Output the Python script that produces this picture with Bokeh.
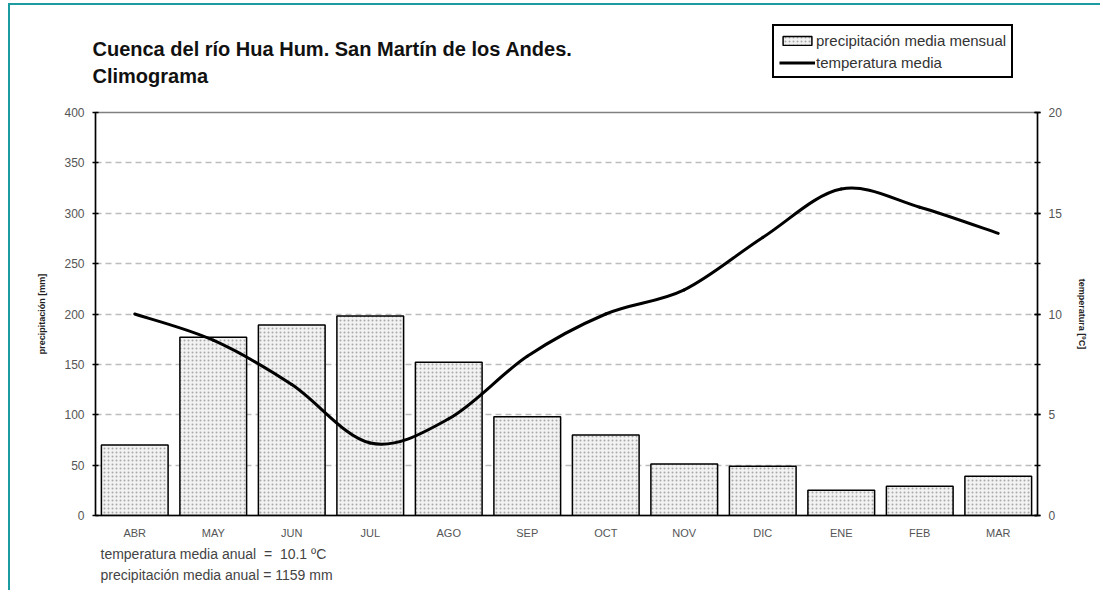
from bokeh.plotting import figure
from bokeh.layouts import column
from bokeh.models import (FactorRange, Range1d, LinearAxis, Legend, LegendItem,
                          SingleIntervalTicker)
from bokeh.core.properties import value
from bokeh.embed import file_html
from bokeh.resources import INLINE

months = ["ABR", "MAY", "JUN", "JUL", "AGO", "SEP", "OCT", "NOV", "DIC", "ENE", "FEB", "MAR"]
precip = [70, 177, 189, 198, 152, 98, 80, 51, 49, 25, 29, 39]
temp = [10.0, 8.7, 6.5, 3.6, 4.8, 7.9, 10.0, 11.2, 13.8, 16.2, 15.3, 14.0]
title_lines = ["Cuenca del río Hua Hum. San Martín de los Andes.", "Climograma"]
note_lines = ["temperatura media anual\u00a0 =\u00a0 10.1 ºC", "precipitación media anual = 1159 mm"]
legend_labels = ["precipitación media mensual", "temperatura media"]

FONT = "Liberation Sans"
TEAL = "#1c9ba0"
W = 1090

BAR_STYLE = dict(fill_color="#f2f2f2", hatch_pattern=".", hatch_color="#a8a8a8",
                 hatch_scale=4, hatch_weight=1, line_color="black", line_width=1.5)


def blank_figure(height):
    f = figure(width=W, height=height, x_range=Range1d(0, W), y_range=Range1d(height, 0),
               output_backend="svg", toolbar_location=None, min_border=0,
               min_border_left=0, min_border_right=0, min_border_top=0, min_border_bottom=0,
               x_axis_type=None, y_axis_type=None, frame_align=False)
    f.grid.visible = False
    f.outline_line_color = None
    return f


# ---------- top: title + legend ----------
top = blank_figure(85)
top.text(x=[82, 82], y=[43, 70], text=title_lines, text_font=value(FONT),
         text_font_size="20px", text_font_style="bold", text_color="#111111",
         text_baseline="middle", text_align="left")
# invisible legend proxies (legend glyphs are drawn from their styles)
leg_bar = top.vbar(x=[0], top=[0], width=1, visible=False, **BAR_STYLE)
leg_line = top.line(x=[0, 0], y=[0, 0], line_color="black", line_width=3, visible=False)
legend = Legend(items=[LegendItem(label=legend_labels[0], renderers=[leg_bar]),
                       LegendItem(label=legend_labels[1], renderers=[leg_line])],
                location=(762, 12), border_line_color="black", border_line_width=2,
                border_line_alpha=1,
                background_fill_color="white", background_fill_alpha=1,
                padding=5, spacing=4, margin=0,
                glyph_width=36, glyph_height=11, label_height=18, label_standoff=1,
                label_text_font=FONT, label_text_font_size="15px",
                label_text_color="#333333", label_text_baseline="middle",
                click_policy="none")
top.add_layout(legend, "center")

# ---------- main chart ----------
p = figure(width=W, height=455, x_range=FactorRange(*months, range_padding=0),
           y_range=Range1d(0, 400), output_backend="svg", toolbar_location=None,
           min_border_left=85, min_border_right=63, min_border_top=22, min_border_bottom=30,
           frame_align=False)
p.extra_y_ranges = {"temp": Range1d(0, 20)}

p.outline_line_color = "#808080"
p.outline_line_width = 1.5
p.xgrid.visible = False
p.ygrid.grid_line_color = "#bdbdbd"
p.ygrid.grid_line_dash = "6 4"
p.ygrid.grid_line_width = 1.5
p.ygrid.ticker = SingleIntervalTicker(interval=50)

p.vbar(x=months, top=precip, width=0.85, **BAR_STYLE)

# smoothed temperature curve (Catmull-Rom -> cubic Bezier) in synthetic category coords
n = len(temp)
xs = [i + 0.5 for i in range(n)]
x0, y0, x1, y1, cx0, cy0, cx1, cy1 = [], [], [], [], [], [], [], []
for i in range(n - 1):
    pm = i - 1 if i > 0 else i
    pp = i + 2 if i + 2 < n else i + 1
    x0.append(xs[i]); y0.append(temp[i]); x1.append(xs[i + 1]); y1.append(temp[i + 1])
    cx0.append(xs[i] + (xs[i + 1] - xs[pm]) / 6); cy0.append(temp[i] + (temp[i + 1] - temp[pm]) / 6)
    cx1.append(xs[i + 1] - (xs[pp] - xs[i]) / 6); cy1.append(temp[i + 1] - (temp[pp] - temp[i]) / 6)
p.bezier(x0=x0, y0=y0, x1=x1, y1=y1, cx0=cx0, cy0=cy0, cx1=cx1, cy1=cy1,
         line_color="black", line_width=3, line_cap="round", y_range_name="temp")


def style_axis(ax, size="12px"):
    ax.axis_line_color = "black"
    ax.axis_line_width = 1.5
    ax.major_tick_line_color = "black"
    ax.major_tick_line_width = 1.5
    ax.major_label_text_font = FONT
    ax.major_label_text_font_size = size
    ax.major_label_text_color = "#555555"
    ax.axis_label_text_font = FONT
    ax.axis_label_text_font_size = "9px"
    ax.axis_label_text_font_style = "bold"
    ax.axis_label_text_color = "#222222"


ly = p.yaxis[0]
style_axis(ly)
ly.ticker = SingleIntervalTicker(interval=50, num_minor_ticks=0)
ly.major_tick_in = 3
ly.major_tick_out = 3
ly.minor_tick_line_color = None
ly.major_label_standoff = 8
ly.axis_label = "precipitación [mm]"
ly.axis_label_standoff = 14

xa = p.xaxis[0]
style_axis(xa, "11px")
xa.major_tick_line_color = None
xa.minor_tick_line_color = None
xa.major_tick_out = 0
xa.major_tick_in = 0
xa.major_label_standoff = 11

ra = LinearAxis(y_range_name="temp", ticker=SingleIntervalTicker(interval=5, num_minor_ticks=2))
style_axis(ra)
ra.major_tick_in = 3
ra.major_tick_out = 3
ra.minor_tick_in = 3
ra.minor_tick_out = 3
ra.minor_tick_line_color = "black"
ra.minor_tick_line_width = 1.5
ra.major_label_standoff = 8
ra.axis_label = "temperatura [ºC]"
ra.axis_label_standoff = 12
p.add_layout(ra, "right")

# ---------- bottom: annual notes ----------
bottom = blank_figure(45)
bottom.text(x=[90, 90], y=[8, 29], text=note_lines, text_font=value(FONT),
            text_font_size="14px", text_color="#444444",
            text_baseline="middle", text_align="left")

layout = column(top, p, bottom, spacing=0, margin=(3, 0, 0, 8),
                styles={"border-top": f"2px solid {TEAL}", "border-left": f"2px solid {TEAL}"})

open("out.html", "w").write(file_html(layout, INLINE))
